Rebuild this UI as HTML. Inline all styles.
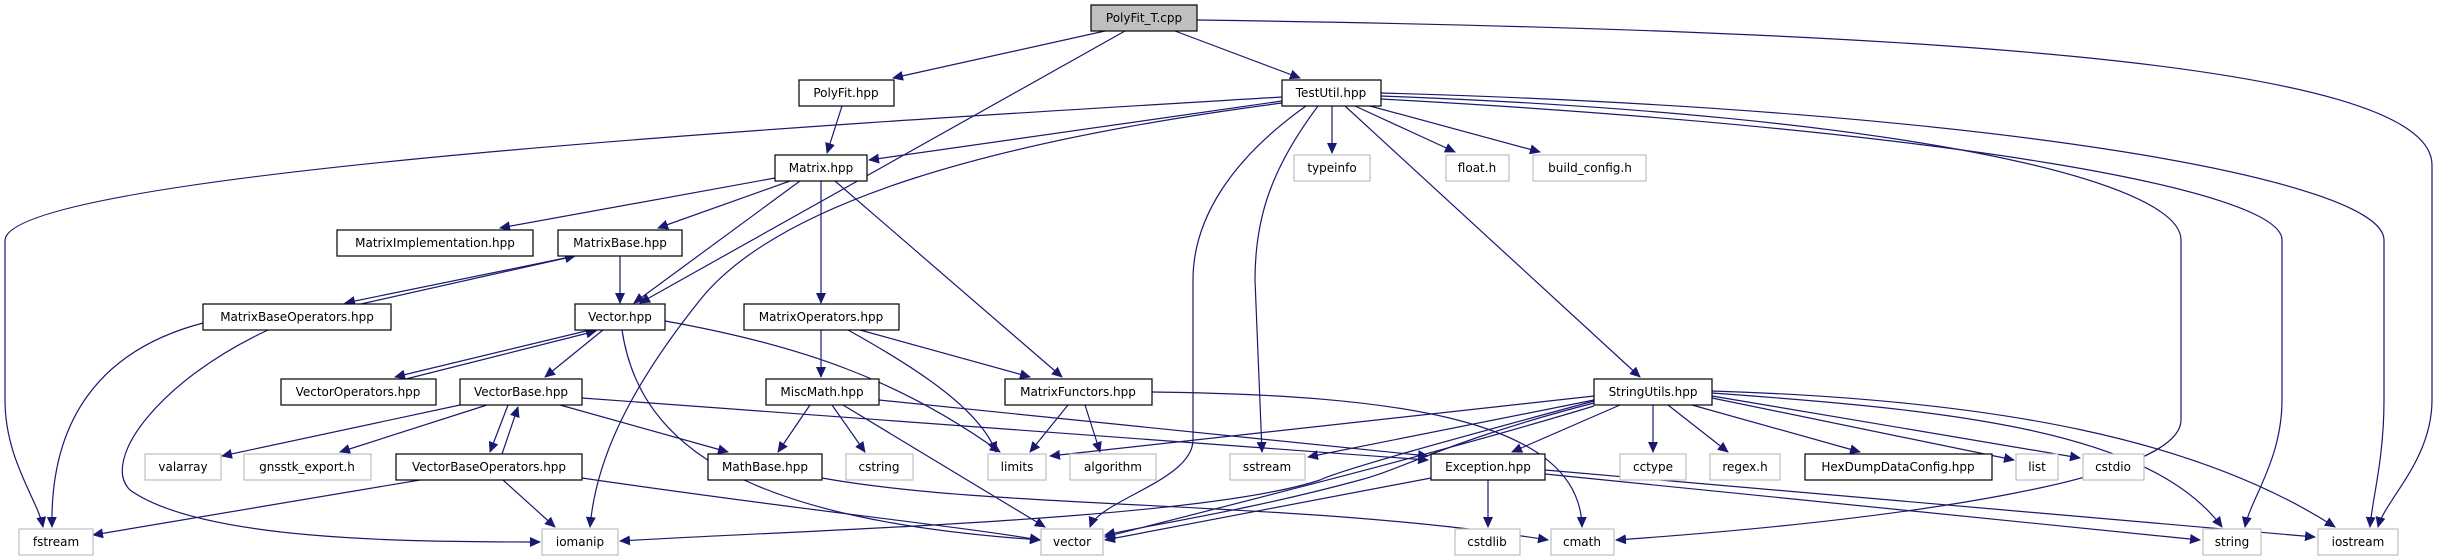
<!DOCTYPE html>
<html><head><meta charset="utf-8"><style>
html,body{margin:0;padding:0;background:#fff;}
svg{display:block}
.n rect{fill:#fff;stroke:#000;stroke-width:1.2}
.s rect{fill:#fff;stroke:#bfbfbf;stroke-width:1.2}
text{font-family:"DejaVu Sans","Liberation Sans",sans-serif;font-size:12px;fill:#000;text-anchor:middle}
.e path{fill:none;stroke:#191970;stroke-width:1.2}
</style></head><body>
<svg width="2440" height="560" viewBox="0 0 2440 560" xmlns="http://www.w3.org/2000/svg">
<defs><marker id="a" markerWidth="11" markerHeight="10" refX="10" refY="5" orient="auto" markerUnits="userSpaceOnUse"><path d="M0,0 L11,5 L0,10 z" fill="#191970"/></marker></defs>
<g class="e" marker-end="url(#a)">
<path d="M1105,31 L893,78" marker-end="url(#a)"/>
<path d="M1125,31 L640,303" marker-end="url(#a)"/>
<path d="M1175,31 L1300,78" marker-end="url(#a)"/>
<path d="M1197,20 C1900,30 2432,60 2432,165 L2432,400 C2432,460 2385,500 2378,527" marker-end="url(#a)"/>
<path d="M842,106 L827,153" marker-end="url(#a)"/>
<path d="M1282,101 L869,160" marker-end="url(#a)"/>
<path d="M1282,97 C900,120 10,170 5,240 L5,400 C5,460 38,500 43,527" marker-end="url(#a)"/>
<path d="M1282,103 C1000,140 780,200 700,300 C620,400 595,470 590,527" marker-end="url(#a)"/>
<path d="M1306,106 C1230,160 1193,220 1193,280 L1193,440 C1193,480 1100,500 1090,527" marker-end="url(#a)"/>
<path d="M1318,106 C1270,170 1255,220 1255,280 L1262,452" marker-end="url(#a)"/>
<path d="M1332,106 L1332,153" marker-end="url(#a)"/>
<path d="M1355,106 L1455,152" marker-end="url(#a)"/>
<path d="M1370,106 L1540,152" marker-end="url(#a)"/>
<path d="M1345,106 L1640,377" marker-end="url(#a)"/>
<path d="M1381,96 C1900,115 2181,180 2181,240 L2181,420 C2181,480 1900,520 1616,540" marker-end="url(#a)"/>
<path d="M1381,99 C1950,130 2282,190 2282,240 L2282,400 C2282,460 2250,500 2245,527" marker-end="url(#a)"/>
<path d="M1381,93 C2000,110 2384,180 2384,240 L2384,400 C2384,460 2372,500 2370,527" marker-end="url(#a)"/>
<path d="M775,178 L500,228" marker-end="url(#a)"/>
<path d="M790,181 L658,228" marker-end="url(#a)"/>
<path d="M800,181 L634,303" marker-end="url(#a)"/>
<path d="M821,181 L821,303" marker-end="url(#a)"/>
<path d="M835,181 L1062,377" marker-end="url(#a)"/>
<path d="M620,255 L620,303" marker-end="url(#a)"/>
<path d="M570,257 L345,303" marker-end="url(#a)"/>
<path d="M352,306 L575,256" marker-end="url(#a)"/>
<path d="M203,323 C100,350 50,420 52,527" marker-end="url(#a)"/>
<path d="M268,330 C160,380 100,460 130,490 C200,540 400,542 540,542" marker-end="url(#a)"/>
<path d="M590,330 L395,377" marker-end="url(#a)"/>
<path d="M402,380 L596,331" marker-end="url(#a)"/>
<path d="M603,330 L545,377" marker-end="url(#a)"/>
<path d="M665,321 C800,345 900,380 1000,452" marker-end="url(#a)"/>
<path d="M622,330 C640,450 750,520 1040,540" marker-end="url(#a)"/>
<path d="M821,330 L821,377" marker-end="url(#a)"/>
<path d="M860,330 L1030,377" marker-end="url(#a)"/>
<path d="M848,330 C920,370 980,410 996,452" marker-end="url(#a)"/>
<path d="M508,405 L490,452" marker-end="url(#a)"/>
<path d="M502,454 L518,407" marker-end="url(#a)"/>
<path d="M460,405 L222,456" marker-end="url(#a)"/>
<path d="M487,405 L340,452" marker-end="url(#a)"/>
<path d="M560,405 L728,452" marker-end="url(#a)"/>
<path d="M582,398 L1428,460" marker-end="url(#a)"/>
<path d="M420,480 L93,535" marker-end="url(#a)"/>
<path d="M503,480 L555,527" marker-end="url(#a)"/>
<path d="M582,478 C800,510 950,525 1040,540" marker-end="url(#a)"/>
<path d="M810,405 L778,452" marker-end="url(#a)"/>
<path d="M832,405 L865,452" marker-end="url(#a)"/>
<path d="M843,405 L1045,527" marker-end="url(#a)"/>
<path d="M879,400 L1428,456" marker-end="url(#a)"/>
<path d="M1068,405 L1030,452" marker-end="url(#a)"/>
<path d="M1085,405 L1100,452" marker-end="url(#a)"/>
<path d="M1152,392 C1400,395 1580,420 1582,527" marker-end="url(#a)"/>
<path d="M822,478 C1000,510 1300,500 1548,540" marker-end="url(#a)"/>
<path d="M1594,396 L1050,456" marker-end="url(#a)"/>
<path d="M1594,400 L1308,457" marker-end="url(#a)"/>
<path d="M1594,401 C1450,440 1340,470 1320,480 C1200,520 800,530 620,541" marker-end="url(#a)"/>
<path d="M1594,403 C1450,440 1400,470 1360,480 C1250,510 1150,525 1105,535" marker-end="url(#a)"/>
<path d="M1594,406 C1450,450 1250,500 1105,537" marker-end="url(#a)"/>
<path d="M1620,405 L1512,452" marker-end="url(#a)"/>
<path d="M1653,405 L1653,452" marker-end="url(#a)"/>
<path d="M1668,405 L1728,452" marker-end="url(#a)"/>
<path d="M1692,405 L1860,452" marker-end="url(#a)"/>
<path d="M1712,398 L2014,460" marker-end="url(#a)"/>
<path d="M1712,396 L2080,458" marker-end="url(#a)"/>
<path d="M1712,393 C1950,410 2150,430 2222,527" marker-end="url(#a)"/>
<path d="M1712,391 C2000,400 2200,440 2335,527" marker-end="url(#a)"/>
<path d="M1488,480 L1488,527" marker-end="url(#a)"/>
<path d="M1431,478 L1105,540" marker-end="url(#a)"/>
<path d="M1545,474 L2200,540" marker-end="url(#a)"/>
<path d="M1545,470 L2315,537" marker-end="url(#a)"/>
</g>
<g class="n">
<rect x="1091" y="5" width="106" height="26" style="fill:#bfbfbf"/><text x="1144" y="22">PolyFit_T.cpp</text>
<rect x="799" y="80" width="95" height="26"/><text x="846" y="97">PolyFit.hpp</text>
<rect x="1282" y="80" width="99" height="26"/><text x="1331" y="97">TestUtil.hpp</text>
<rect x="775" y="155" width="92" height="26"/><text x="821" y="172">Matrix.hpp</text>
<rect x="337" y="230" width="196" height="26"/><text x="435" y="247">MatrixImplementation.hpp</text>
<rect x="558" y="230" width="124" height="26"/><text x="620" y="247">MatrixBase.hpp</text>
<rect x="203" y="304" width="188" height="26"/><text x="297" y="321">MatrixBaseOperators.hpp</text>
<rect x="575" y="304" width="90" height="26"/><text x="620" y="321">Vector.hpp</text>
<rect x="744" y="304" width="155" height="26"/><text x="821" y="321">MatrixOperators.hpp</text>
<rect x="281" y="379" width="155" height="26"/><text x="358" y="396">VectorOperators.hpp</text>
<rect x="460" y="379" width="122" height="26"/><text x="521" y="396">VectorBase.hpp</text>
<rect x="766" y="379" width="113" height="26"/><text x="822" y="396">MiscMath.hpp</text>
<rect x="1005" y="379" width="147" height="26"/><text x="1078" y="396">MatrixFunctors.hpp</text>
<rect x="1594" y="379" width="118" height="26"/><text x="1653" y="396">StringUtils.hpp</text>
<rect x="396" y="454" width="186" height="26"/><text x="489" y="471">VectorBaseOperators.hpp</text>
<rect x="708" y="454" width="114" height="26"/><text x="765" y="471">MathBase.hpp</text>
<rect x="1431" y="454" width="114" height="26"/><text x="1488" y="471">Exception.hpp</text>
<rect x="1805" y="454" width="187" height="26"/><text x="1898" y="471">HexDumpDataConfig.hpp</text>
</g>
<g class="s">
<rect x="1294" y="155" width="76" height="26"/><text x="1332" y="172">typeinfo</text>
<rect x="1446" y="155" width="63" height="26"/><text x="1477" y="172">float.h</text>
<rect x="1533" y="155" width="113" height="26"/><text x="1590" y="172">build_config.h</text>
<rect x="145" y="454" width="76" height="26"/><text x="183" y="471">valarray</text>
<rect x="244" y="454" width="127" height="26"/><text x="307" y="471">gnsstk_export.h</text>
<rect x="846" y="454" width="67" height="26"/><text x="879" y="471">cstring</text>
<rect x="988" y="454" width="58" height="26"/><text x="1017" y="471">limits</text>
<rect x="1070" y="454" width="86" height="26"/><text x="1113" y="471">algorithm</text>
<rect x="1230" y="454" width="75" height="26"/><text x="1267" y="471">sstream</text>
<rect x="1620" y="454" width="66" height="26"/><text x="1653" y="471">cctype</text>
<rect x="1710" y="454" width="70" height="26"/><text x="1745" y="471">regex.h</text>
<rect x="2016" y="454" width="42" height="26"/><text x="2037" y="471">list</text>
<rect x="2083" y="454" width="61" height="26"/><text x="2113" y="471">cstdio</text>
<rect x="19" y="529" width="74" height="26"/><text x="56" y="546">fstream</text>
<rect x="542" y="529" width="76" height="26"/><text x="580" y="546">iomanip</text>
<rect x="1041" y="529" width="62" height="26"/><text x="1072" y="546">vector</text>
<rect x="1455" y="529" width="65" height="26"/><text x="1487" y="546">cstdlib</text>
<rect x="1551" y="529" width="63" height="26"/><text x="1582" y="546">cmath</text>
<rect x="2203" y="529" width="58" height="26"/><text x="2232" y="546">string</text>
<rect x="2318" y="529" width="80" height="26"/><text x="2358" y="546">iostream</text>
</g>
</svg>
</body></html>
